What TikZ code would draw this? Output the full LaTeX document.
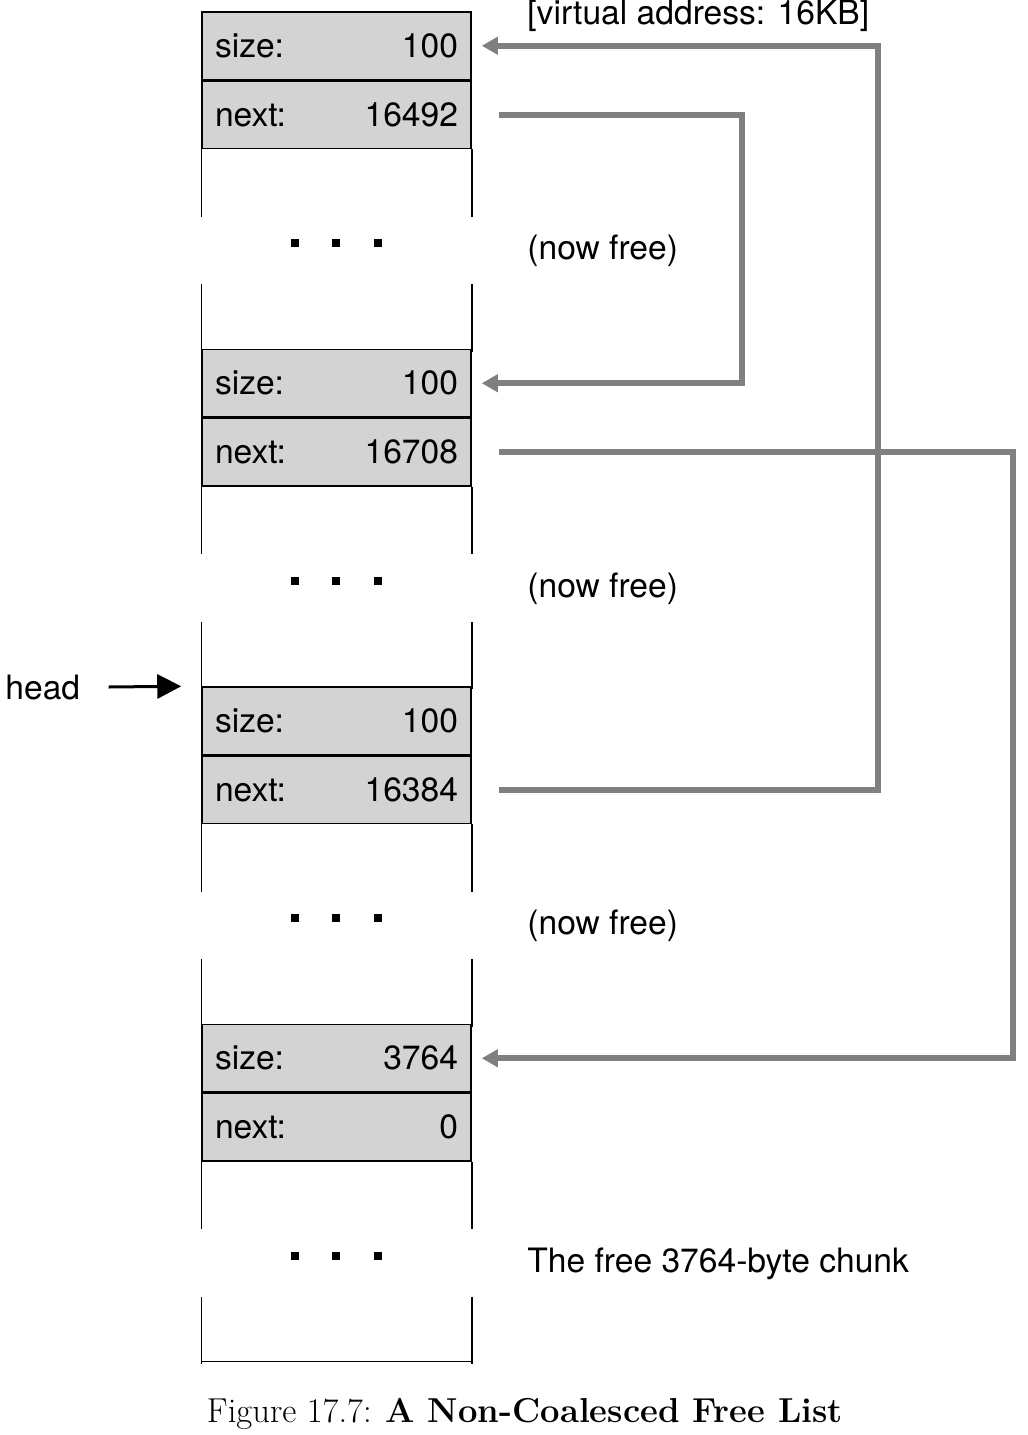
\documentclass[tikz,border=0pt]{standalone}
\usepackage{fontspec}
\setsansfont{TeX Gyre Heros}
\usetikzlibrary{arrows.meta}
\definecolor{linkgray}{HTML}{808080}
\definecolor{cellgray}{HTML}{D3D3D3}

\begin{document}
\begin{tikzpicture}[x=0.5pt, y=-0.5pt, line join=miter,
  every node/.style={font=\sffamily\fontsize{16.8}{20}\selectfont, inner sep=0pt},
  cell/.style={draw, fill=cellgray, line width=0.75pt, minimum width=134.5pt, minimum height=33.75pt},
  wall/.style={line width=0.75pt},
  link/.style={draw=linkgray, line width=3pt, -{Triangle[length=8pt,width=8.5pt]}}]

\useasboundingbox (0,0) rectangle (1028,1435);

\foreach \i/\sz/\nx/\note in {1/100/16492/{(now free)}, 2/100/16708/{(now free)},
  3/100/16384/{(now free)}, 4/3764/0/{The free 3764-byte chunk}} {
  \pgfmathsetmacro\blocky{12+337.5*(\i-1)}
  \node[cell] (s\i) at (336.5,\blocky+33.75) {\makebox[121.5pt]{size:\hfill\sz}};
  \node[cell, anchor=north] (n\i) at (s\i.south) {\makebox[121.5pt]{next:\hfill\nx}};
  \draw[wall] (n\i.south west) -- ++(0,67.5) ++(0,67.5) -- ++(0,67.5);
  \draw[wall] (n\i.south east) -- ++(0,67.5) ++(0,67.5) -- ++(0,67.5);
  \foreach \dx in {295,336,378}
    \fill (\dx-4,\blocky+227) rectangle ++(8,8);
  \node[anchor=west] (free\i) at (527,\blocky+239) {\note};
}
\draw[wall] (202,1361.5) -- (471,1361.5);

\node[anchor=base west] (vaddr) at (527,24) {[virtual address: 16KB]};

\node[anchor=west] (head) at (5,687) {head};
\draw[line width=1.5pt, -{Triangle[length=12pt,width=12pt]}] ([xshift=14pt]head.east) -- ([xshift=-10pt]s3.north west);

\draw[link] ([xshift=13.5pt]n3.east) -| ([xshift=203pt]s1.east) -- ([xshift=5pt]s1.east);
\draw[link] ([xshift=13.5pt]n1.east) -| ([xshift=135pt]s2.east) -- ([xshift=5pt]s2.east);
\draw[link] ([xshift=13.5pt]n2.east) -| ([xshift=270.5pt]s4.east) -- ([xshift=5pt]s4.east);

\node[font=\rmfamily\fontsize{17.3}{21}\selectfont, anchor=base] (caption) at (525,1422) {Figure 17.7: \textbf{A Non-Coalesced Free List}};

\end{tikzpicture}
\end{document}
